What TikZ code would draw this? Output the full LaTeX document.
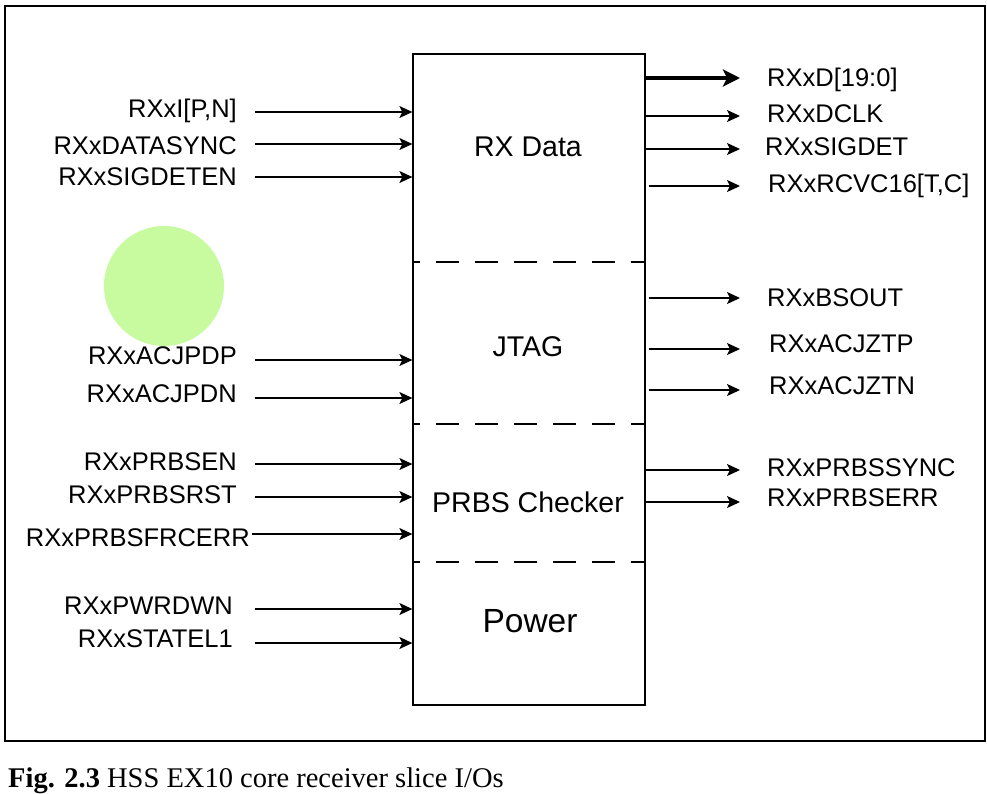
\documentclass[tikz,border=0pt]{standalone}
\usepackage{fontspec}
\setmainfont{Liberation Sans}
\newfontfamily\capfont{Liberation Serif}
\usepackage{xcolor}
\usetikzlibrary{arrows.meta,positioning}
\definecolor{rxgreen}{HTML}{C8FBA0}

\begin{document}
\begin{tikzpicture}[
  x=1pt, y=-1pt,
  sig/.style={-{Stealth[length=13pt,width=12pt,inset=3pt]}, line width=1.3pt},
  bus/.style={-{Stealth[length=17pt,width=17pt,inset=4pt]}, line width=3.3pt},
  lbl/.style={inner sep=0pt, font=\fontsize{25.5}{30}\selectfont},
  lin/.style={lbl, anchor=base east},
  lout/.style={lbl, anchor=base west},
  sect/.style={inner sep=0pt, font=\fontsize{28.5}{32}\selectfont},
  divider/.style={dash pattern=on 23pt off 16pt, dash phase=15pt, line width=1.2pt},
]
\useasboundingbox (0,0) rectangle (987,793);

% frame and block
\node[draw, line width=2.7pt, minimum width=980, minimum height=735, inner sep=0pt]
  (frame) at (495,373.5) {};
\node[draw, line width=1.3pt, minimum width=232, minimum height=651, inner sep=0pt]
  (rx) at (529,379.5) {};
\fill[rxgreen] (164,286) circle[radius=60];

% sections
\draw[divider] (rx.west |- 0,262) -- (rx.east |- 0,262);
\draw[divider] (rx.west |- 0,424) -- (rx.east |- 0,424);
\draw[divider] (rx.west |- 0,562) -- (rx.east |- 0,562);
\node[sect] (secData) at (528,147) {RX Data};
\node[sect] (secJtag) at (528,347) {JTAG};
\node[sect] (secPrbs) at (528,502) {PRBS Checker};
\node[inner sep=0pt, font=\fontsize{33.5}{38}\selectfont] (secPwr) at (530,621) {Power};

% inputs
\node[lin] (iPN) at (237,117) {RXxI[P,N]};
\node[lin] (iSync) at (237,154) {RXxDATASYNC};
\node[lin] (iSdEn) at (237,185) {RXxSIGDETEN};
\node[lin] (iAcP) at (237,364) {RXxACJPDP};
\node[lin] (iAcN) at (237,402) {RXxACJPDN};
\node[lin] (iPrEn) at (237,470) {RXxPRBSEN};
\node[lin] (iPrRst) at (237,503) {RXxPRBSRST};
\node[lin] (iPrFrc) at (250,546) {RXxPRBSFRCERR};
\node[lin] (iPwr) at (233,614) {RXxPWRDWN};
\node[lin] (iSt) at (233,647) {RXxSTATEL1};

\coordinate (aPN) at (255,112);
\coordinate (aSync) at (255,144);
\coordinate (aSdEn) at (255,177);
\coordinate (aAcP) at (255,360);
\coordinate (aAcN) at (255,398);
\coordinate (aPrEn) at (255,464);
\coordinate (aPrRst) at (255,497);
\coordinate (aPrFrc) at (252,534);
\coordinate (aPwr) at (255,609);
\coordinate (aSt) at (255,643);

\draw[sig] (aPN) -- (aPN -| rx.west);
\draw[sig] (aSync) -- (aSync -| rx.west);
\draw[sig] (aSdEn) -- (aSdEn -| rx.west);
\draw[sig] (aAcP) -- (aAcP -| rx.west);
\draw[sig] (aAcN) -- (aAcN -| rx.west);
\draw[sig] (aPrEn) -- (aPrEn -| rx.west);
\draw[sig] (aPrRst) -- (aPrRst -| rx.west);
\draw[sig] (aPrFrc) -- (aPrFrc -| rx.west);
\draw[sig] (aPwr) -- (aPwr -| rx.west);
\draw[sig] (aSt) -- (aSt -| rx.west);

% outputs
\node[lout] (oD) at (767,86) {RXxD[19:0]};
\node[lout] (oClk) at (767,122) {RXxDCLK};
\node[lout] (oSd) at (765,155) {RXxSIGDET};
\node[lout] (oRcv) at (768,192) {RXxRCVC16[T,C]};
\node[lout] (oBs) at (767,306) {RXxBSOUT};
\node[lout] (oZp) at (769,352) {RXxACJZTP};
\node[lout] (oZn) at (769,394) {RXxACJZTN};
\node[lout] (oPs) at (767,476) {RXxPRBSSYNC};
\node[lout] (oPe) at (767,506) {RXxPRBSERR};

\coordinate (bD) at (740,78);
\coordinate (bClk) at (740,116);
\coordinate (bSd) at (740,149);
\coordinate (bRcv) at (740,186);
\coordinate (bBs) at (740,298);
\coordinate (bZp) at (740,349);
\coordinate (bZn) at (740,390);
\coordinate (bPs) at (740,470);
\coordinate (bPe) at (740,502);

\draw[bus] (bD -| rx.east) -- (bD);
\draw[sig] (bClk -| rx.east) -- (bClk);
\draw[sig] (bSd -| rx.east) -- (bSd);
\draw[sig] ([xshift=3pt]bRcv -| rx.east) -- (bRcv);
\draw[sig] ([xshift=3pt]bBs -| rx.east) -- (bBs);
\draw[sig] ([xshift=3pt]bZp -| rx.east) -- (bZp);
\draw[sig] ([xshift=3pt]bZn -| rx.east) -- (bZn);
\draw[sig] (bPs -| rx.east) -- (bPs);
\draw[sig] (bPe -| rx.east) -- (bPe);

% caption
\node[inner sep=0pt, anchor=base west, font=\capfont\fontsize{28.5}{32}\selectfont]
  (cap) at (8,787) {\textbf{Fig. 2.3} HSS EX10 core receiver slice I/Os};
\end{tikzpicture}
\end{document}
